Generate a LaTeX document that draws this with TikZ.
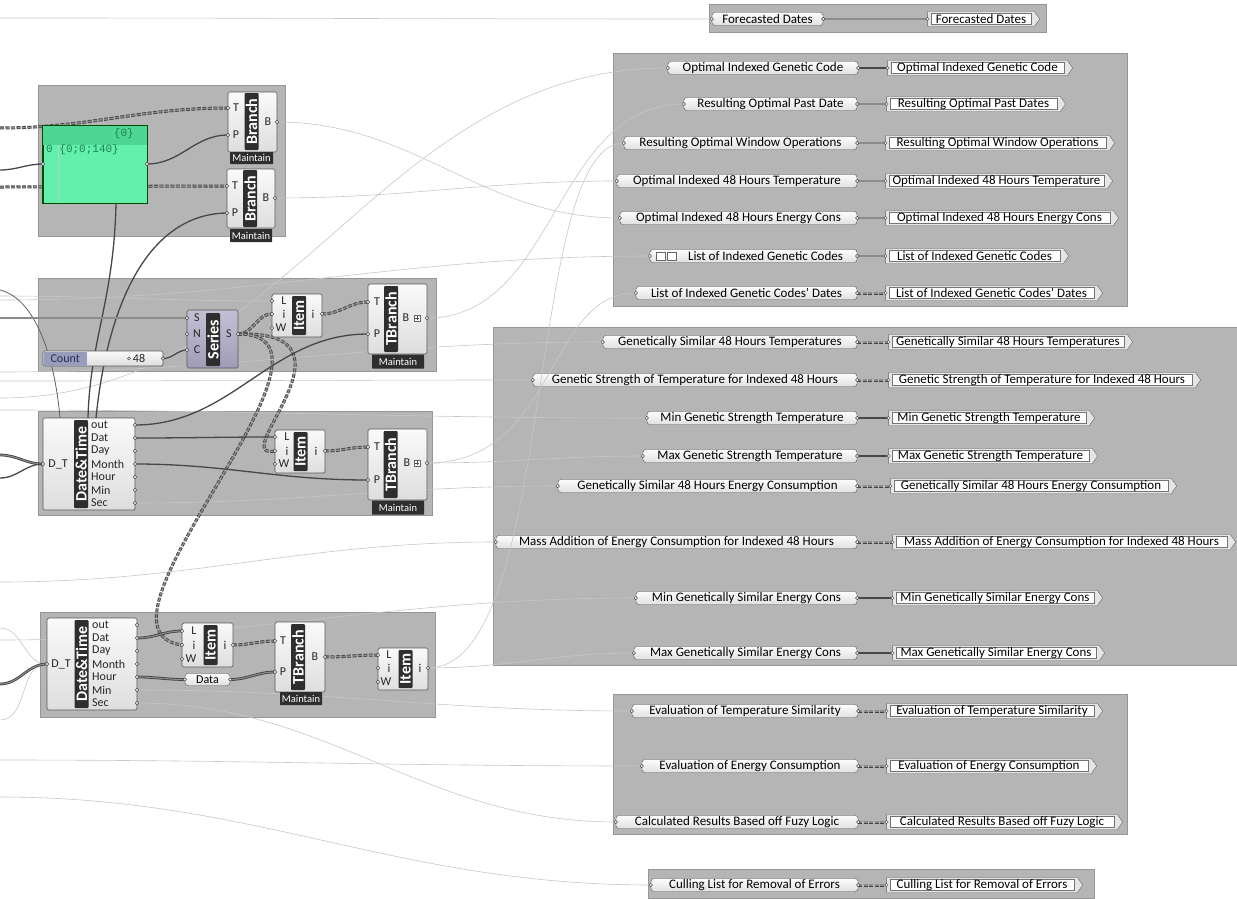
\documentclass[tikz,border=0pt]{standalone}
\usepackage{fontspec}
\setmainfont{Carlito}
\setmonofont{Liberation Mono}
\usetikzlibrary{shapes.symbols}

\definecolor{grpfill}{RGB}{181,181,181}
\definecolor{grpline}{RGB}{150,150,150}
\definecolor{panelfill}{RGB}{98,240,172}
\definecolor{panelhead}{RGB}{78,214,148}
\definecolor{paneltext}{RGB}{30,130,80}
\definecolor{serieslt}{RGB}{196,192,212}
\definecolor{seriesdk}{RGB}{160,156,182}
\definecolor{sliderlbl}{RGB}{152,158,186}
\definecolor{slidertext}{RGB}{40,42,90}

\newcommand{\pfont}{\fontsize{13}{14}\selectfont}
\newcommand{\portfont}{\fontsize{12}{13}\selectfont}
\newcommand{\stripfont}{\fontsize{16}{16}\selectfont\bfseries}
\newcommand{\mfont}{\fontsize{10.5}{11}\selectfont}

\begin{document}
\begin{tikzpicture}[x=1pt,y=-1pt,
    grp/.style={fill=grpfill, draw=grpline, line width=0.6pt},
    comp/.style={draw=black!65, top color=black!2, bottom color=black!13, rounded corners=1.5pt, line width=0.7pt, inner sep=0},
    seriesbox/.style={comp, top color=serieslt, bottom color=seriesdk},
    strip/.style={fill=black!82, text=white, font=\stripfont, rounded corners=1pt, inner sep=0, rotate=90},
    port/.style={font=\portfont, inner sep=0, text=black!85},
    maint/.style={fill=black!82, text=white, font=\mfont, inner sep=0, rounded corners=0.5pt},
    param/.style={draw=black!65, top color=black!1, bottom color=black!12, rounded corners=3pt, minimum height=13, inner sep=0, font=\pfont},
    relay/.style={signal, signal to=east, signal pointer angle=110, draw=black!60, fill=black!10, minimum height=15, inner sep=0, font=\pfont,
      path picture={
        \fill[white] ([shift={(4pt,2.2pt)}]path picture bounding box.south west) rectangle ([shift={(-8pt,-2.2pt)}]path picture bounding box.north east);
        \draw[black!55, line width=0.5pt] ([shift={(4pt,2.2pt)}]path picture bounding box.south west) rectangle ([shift={(-8pt,-2.2pt)}]path picture bounding box.north east);}},
    grip/.style={draw=black!70, fill=black!5, line width=0.5pt},
    wirethin/.style={draw=black!22, line width=0.6pt},
    wiredark/.style={draw=black!62, line width=0.8pt},
    wiresolid/.style={draw=black!72, line width=1.3pt},
    wiretree/.style={draw=black!75, line width=0.8pt, double=black!45, double distance=1.1pt},
    wirelist/.style={wiretree, double distance=1.4pt, dash pattern=on 4pt off 1.5pt}]
  \useasboundingbox (0,0) rectangle (1237,899);

  % groups
  \draw[grp] (38,85) rectangle (285,236);
  \draw[grp] (38,278) rectangle (436,371);
  \draw[grp] (38,411) rectangle (432,515);
  \draw[grp] (40,612) rectangle (435,717);
  \draw[grp] (709,4) rectangle (1046,32);
  \draw[grp] (613,53) rectangle (1127,306);
  \draw[grp] (493,327) rectangle (1237,665);
  \draw[grp] (613,694) rectangle (1127,834);
  \draw[grp] (648,869) rectangle (1094,898);

  % ports of the left components
  \coordinate (pnlIn) at (43,164);   \coordinate (pnlOut) at (147,164);
  \coordinate (pnlBot) at (116,203);
  \coordinate (br1T) at (228,108);   \coordinate (br1P) at (228,135);   \coordinate (br1B) at (277,122);
  \coordinate (br2T) at (227,186);   \coordinate (br2P) at (227,213);   \coordinate (br2B) at (275,198);
  \coordinate (cntOut) at (163,358.5);
  \coordinate (sS) at (187,318);     \coordinate (sN) at (187,334);     \coordinate (sC) at (187,350);
  \coordinate (sOut) at (238,334);
  \coordinate (it1L) at (272,301);   \coordinate (it1i) at (272,314);   \coordinate (it1W) at (272,328);
  \coordinate (it1o) at (322,314);
  \coordinate (tb1T) at (368,302);   \coordinate (tb1P) at (368,334);   \coordinate (tb1B) at (427,318);
  \coordinate (dt1DT) at (43,464);
  \coordinate (dt1Top0) at (60,418); \coordinate (dt1Top1) at (88,418); \coordinate (dt1Top2) at (96,418);
  \coordinate (dt1out) at (135,425); \coordinate (dt1Dat) at (135,438); \coordinate (dt1Day) at (135,451);
  \coordinate (dt1Month) at (135,464); \coordinate (dt1Hour) at (135,477); \coordinate (dt1Min) at (135,490);
  \coordinate (dt1Sec) at (135,503);
  \coordinate (it2L) at (275,437);   \coordinate (it2i) at (275,451);   \coordinate (it2W) at (275,464);
  \coordinate (it2o) at (325,451);
  \coordinate (tb2T) at (368,447);   \coordinate (tb2P) at (368,480);   \coordinate (tb2B) at (427,463);
  \coordinate (dt2DT) at (47,664);
  \coordinate (dt2out) at (137,625); \coordinate (dt2Dat) at (137,638); \coordinate (dt2Day) at (137,651);
  \coordinate (dt2Month) at (137,664); \coordinate (dt2Hour) at (137,677); \coordinate (dt2Min) at (137,690);
  \coordinate (dt2Sec) at (137,703);
  \coordinate (it3L) at (182,631);   \coordinate (it3i) at (182,645);   \coordinate (it3W) at (182,659);
  \coordinate (it3o) at (233,645);
  \coordinate (tb3T) at (275,641);   \coordinate (tb3P) at (275,672);   \coordinate (tb3B) at (325,657);
  \coordinate (it4L) at (378,655);   \coordinate (it4i) at (378,668);   \coordinate (it4W) at (378,682);
  \coordinate (it4o) at (428,668);

  % free ends at the left border
  \coordinate (lA) at (0,18);    \coordinate (lB) at (0,398);   \coordinate (lC) at (0,300);
  \coordinate (lD) at (0,372);   \coordinate (lE) at (0,381);   \coordinate (lF) at (0,410);
  \coordinate (lG) at (0,582);   \coordinate (lH) at (0,640);   \coordinate (lI) at (0,760);
  \coordinate (lJ) at (0,797);   \coordinate (lK) at (0,296);   \coordinate (lL) at (0,720);
  \coordinate (lM) at (0,628);   \coordinate (lN) at (0,128);   \coordinate (lO) at (0,170);
  \coordinate (lP) at (0,187);   \coordinate (lQ) at (0,290);   \coordinate (lR) at (0,318);
  \coordinate (lS) at (0,455);   \coordinate (lT) at (0,478);   \coordinate (lU) at (0,684);

  % right hand parameters and outputs
  \node[param, minimum width=111] (fdL) at (767.5,19) {Forecasted Dates};
  \node[relay, minimum width=112] (fdR) at (981,19) {Forecasted Dates};

  \node[param, minimum width=190] (oigcL) at (763,68) {Optimal Indexed Genetic Code};
  \node[relay, minimum width=185] (oigcR) at (977.5,68) {Optimal Indexed Genetic Code};
  \node[param, minimum width=173] (ropL) at (770.5,104) {Resulting Optimal Past Date};
  \node[relay, minimum width=179] (ropR) at (973.5,104) {Resulting Optimal Past Dates};
  \node[param, minimum width=233] (rowoL) at (740.5,143) {Resulting Optimal Window Operations};
  \node[relay, minimum width=229] (rowoR) at (997.5,143) {Resulting Optimal Window Operations};
  \node[param, minimum width=240] (otL) at (737,181) {Optimal Indexed 48 Hours Temperature};
  \node[relay, minimum width=227] (otR) at (996.5,181) {Optimal Indexed 48 Hours Temperature};
  \node[param, minimum width=237] (oeL) at (738.5,218) {Optimal Indexed 48 Hours Energy Cons};
  \node[relay, minimum width=233] (oeR) at (999.5,218) {Optimal Indexed 48 Hours Energy Cons};
  \node[param, minimum width=207] (lgcL) at (753.5,256) {\hspace*{24pt}List of Indexed Genetic Codes};
  \node[relay, minimum width=183] (lgcR) at (974.5,256) {List of Indexed Genetic Codes};
  \node[param, minimum width=221] (lgcdL) at (746.5,293) {List of Indexed Genetic Codes' Dates};
  \node[relay, minimum width=217] (lgcdR) at (991.5,293) {List of Indexed Genetic Codes' Dates};

  \node[param, minimum width=254] (gstL) at (730,342) {Genetically Similar 48 Hours Temperatures};
  \node[relay, minimum width=244] (gstR) at (1008,342) {Genetically Similar 48 Hours Temperatures};
  \node[param, minimum width=324] (gsL) at (695,380) {Genetic Strength of Temperature for Indexed 48 Hours};
  \node[relay, minimum width=312] (gsR) at (1042,380) {Genetic Strength of Temperature for Indexed 48 Hours};
  \node[param, minimum width=210] (mingsL) at (752,418) {Min Genetic Strength Temperature};
  \node[relay, minimum width=206] (mingsR) at (989,418) {Min Genetic Strength Temperature};
  \node[param, minimum width=214] (maxgsL) at (750,456) {Max Genetic Strength Temperature};
  \node[relay, minimum width=209] (maxgsR) at (990.5,456) {Max Genetic Strength Temperature};
  \node[param, minimum width=299] (gseL) at (707.5,486) {Genetically Similar 48 Hours Energy Consumption};
  \node[relay, minimum width=286] (gseR) at (1031,486) {Genetically Similar 48 Hours Energy Consumption};
  \node[param, minimum width=361] (maL) at (676.5,542) {Mass Addition of Energy Consumption for Indexed 48 Hours};
  \node[relay, minimum width=343] (maR) at (1061.5,542) {Mass Addition of Energy Consumption for Indexed 48 Hours};
  \node[param, minimum width=221] (mingeL) at (746.5,598) {Min Genetically Similar Energy Cons};
  \node[relay, minimum width=210] (mingeR) at (995,598) {Min Genetically Similar Energy Cons};
  \node[param, minimum width=223] (maxgeL) at (745.5,653) {Max Genetically Similar Energy Cons};
  \node[relay, minimum width=212] (maxgeR) at (996,653) {Max Genetically Similar Energy Cons};

  \node[param, minimum width=226] (etsL) at (745,711) {Evaluation of Temperature Similarity};
  \node[relay, minimum width=216] (etsR) at (992,711) {Evaluation of Temperature Similarity};
  \node[param, minimum width=216] (eecL) at (750,766) {Evaluation of Energy Consumption};
  \node[relay, minimum width=210] (eecR) at (989,766) {Evaluation of Energy Consumption};
  \node[param, minimum width=242] (crL) at (737,822) {Calculated Results Based off Fuzy Logic};
  \node[relay, minimum width=236] (crR) at (1002,822) {Calculated Results Based off Fuzy Logic};
  \node[param, minimum width=207] (culL) at (754.5,885) {Culling List for Removal of Errors};
  \node[relay, minimum width=196] (culR) at (982,885) {Culling List for Removal of Errors};

  % icons of the list parameter
  \draw[black!60, fill=white, line width=0.5pt] (656,252) rectangle (665,260);
  \draw[black!60, fill=white, line width=0.5pt] (667,252) rectangle (676,260);

  % thin wires
  \draw[wirethin] (lA) to[out=0,in=180] (fdL.west);
  \draw[wirethin] (br1B) to[out=0,in=180] (oeL.west);
  \draw[wirethin] (br2B) to[out=0,in=180] (otL.west);
  \draw[wirethin] (lB) to[out=0,in=180] (oigcL.west);
  \draw[wirethin] (tb1B) to[out=0,in=180] (ropL.west);
  \draw[wirethin] (it4o) .. controls +(130,0) and +(-100,0) .. (rowoL.west);
  \draw[wirethin] (tb2B) .. controls +(130,0) and +(-90,0) .. (lgcdL.west);
  \draw[wirethin] (lC) to[out=0,in=180] (lgcL.west);
  \draw[wirethin] (lD) to[out=0,in=180] (gstL.west);
  \draw[wirethin] (lE) to[out=0,in=180] (gsL.west);
  \draw[wirethin] (lF) to[out=0,in=180] (mingsL.west);
  \draw[wirethin] (tb2B) to[out=0,in=180] (maxgsL.west);
  \draw[wirethin] (dt1Sec) to[out=0,in=180] (gseL.west);
  \draw[wirethin] (lG) to[out=0,in=180] (maL.west);
  \draw[wirethin] (lH) to[out=0,in=180] (mingeL.west);
  \draw[wirethin] (it4o) to[out=0,in=180] (maxgeL.west);
  \draw[wirethin] (dt2Min) to[out=0,in=180] (etsL.west);
  \draw[wirethin] (lI) to[out=0,in=180] (eecL.west);
  \draw[wirethin] (dt2Sec) to[out=0,in=180] (crL.west);
  \draw[wirethin] (lJ) to[out=0,in=180] (culL.west);
  \draw[wirethin] (lK) to[out=0,in=180] (it1L);
  \draw[wirethin] (lL) to[out=0,in=180] (dt2DT);
  \draw[wirethin] (lM) to[out=0,in=180] (dt2DT);

  % data wires
  \draw[wirelist] (lN) to[out=0,in=180] (br1T);
  \draw[wiresolid] (lO) to[out=0,in=180] (pnlIn);
  \draw[wirelist] (lP) to[out=0,in=180] (br2T);
  \draw[wiresolid] (pnlOut) to[out=0,in=180] (br1P);
  \draw[wiresolid] (pnlBot) .. controls (114,300) and (90,340) .. (dt1Top1);
  \draw[wiresolid] (dt1Top2) .. controls (108,300) and (150,214) .. (br2P);
  \draw[wiredark] (lQ) .. controls (40,300) and (56,370) .. (dt1Top0);
  \draw[wiretree] (lR) -- (sS);
  \draw[wiresolid] (cntOut) to[out=0,in=180] (sC);
  \draw[wirelist] (sOut) to[out=0,in=180] (it1i);
  \draw[wirelist] (sOut) .. controls (370,330) and (225,460) .. (it2i);
  \draw[wirelist] (sOut) .. controls (370,334) and (70,630) .. (it3i);
  \draw[wirelist] (it1o) to[out=0,in=180] (tb1T);
  \draw[wiresolid] (dt1out) to[out=0,in=180] (tb1P);
  \draw[wiresolid] (dt1Dat) to[out=0,in=180] (it2L);
  \draw[wiresolid] (dt1Month) to[out=0,in=180] (tb2P);
  \draw[wirelist] (it2o) to[out=0,in=180] (tb2T);
  \draw[wiretree] (lS) to[out=0,in=180] (dt1DT);
  \draw[wiresolid] (lT) to[out=0,in=180] (dt1DT);
  \draw[wiretree] (lU) to[out=0,in=180] (dt2DT);
  \draw[wiretree] (dt2Dat) to[out=0,in=180] (it3L);
  \draw[wiretree] (dt2Hour) to[out=0,in=180] ([xshift=-22.5]207.5,679.5);
  \draw[wiretree] ([xshift=22.5]207.5,679.5) to[out=0,in=180] (tb3P);
  \draw[wirelist] (it3o) to[out=0,in=180] (tb3T);
  \draw[wirelist] (tb3B) to[out=0,in=180] (it4L);

  % wires between parameters and outputs
  \draw[wiretree] (fdL.east) -- (fdR.west);
  \draw[wiresolid] (oigcL.east) -- (oigcR.west);
  \draw[wiretree] (ropL.east) -- (ropR.west);
  \draw[wiretree] (rowoL.east) -- (rowoR.west);
  \draw[wiretree] (otL.east) -- (otR.west);
  \draw[wiretree] (oeL.east) -- (oeR.west);
  \draw[wiretree] (lgcL.east) -- (lgcR.west);
  \draw[wirelist] (lgcdL.east) -- (lgcdR.west);
  \draw[wirelist] (gstL.east) -- (gstR.west);
  \draw[wirelist] (gsL.east) -- (gsR.west);
  \draw[wiresolid] (mingsL.east) -- (mingsR.west);
  \draw[wiresolid] (maxgsL.east) -- (maxgsR.west);
  \draw[wirelist] (gseL.east) -- (gseR.west);
  \draw[wirelist] (maL.east) -- (maR.west);
  \draw[wiresolid] (mingeL.east) -- (mingeR.west);
  \draw[wiresolid] (maxgeL.east) -- (maxgeR.west);
  \draw[wirelist] (etsL.east) -- (etsR.west);
  \draw[wirelist] (eecL.east) -- (eecR.west);
  \draw[wirelist] (crL.east) -- (crR.west);
  \draw[wirelist] (culL.east) -- (culR.west);

  % panel
  \node[draw=black!70!green, fill=panelfill, line width=0.7pt, minimum width=104, minimum height=77, inner sep=0] (pnl) at (95,164.5) {};
  \fill[panelhead] (43.3,126.3) rectangle (146.7,145);
  \draw[black!70!green, line width=0.7pt] (pnl.north west) rectangle (pnl.south east);
  \draw[paneltext!35, line width=0.4pt] (58,145) -- (58,202.6);
  \node[font=\ttfamily\fontsize{11}{12}\selectfont, text=paneltext, inner sep=0, anchor=east] (pnlhd) at (134,134) {\{0\}};
  \node[font=\ttfamily\fontsize{11}{12}\selectfont, text=paneltext, inner sep=0, anchor=west] (pnltx) at (46,150) {0 \{0;0;140\}};

  % branch components
  \node[comp, minimum width=49, minimum height=60] (br1) at (252.5,122) {};
  \node[strip, minimum width=57, minimum height=14] (br1s) at (251.5,121.5) {Branch};
  \node[port] (br1Tl) at (236,108) {T};
  \node[port] (br1Pl) at (236,135) {P};
  \node[port] (br1Bl) at (268,122) {B};
  \node[maint, minimum width=43, minimum height=12] (br1m) at (251.5,158) {Maintain};

  \node[comp, minimum width=48, minimum height=59] (br2) at (251,198.5) {};
  \node[strip, minimum width=57, minimum height=14] (br2s) at (250,198.5) {Branch};
  \node[port] (br2Tl) at (235,186) {T};
  \node[port] (br2Pl) at (235,213) {P};
  \node[port] (br2Bl) at (266,198) {B};
  \node[maint, minimum width=42, minimum height=13] (br2m) at (251,235.5) {Maintain};

  % count slider
  \node[comp, minimum width=120, minimum height=15] (cnt) at (103,358.5) {};
  \node[fill=sliderlbl, text=slidertext, font=\portfont, inner sep=0, minimum width=43, minimum height=14, anchor=west] (cntl) at (43.5,358.5) {Count};
  \draw[black!70, line width=0.5pt] (129,358.5) circle (1.6);
  \node[port] (cntv) at (139,358.5) {48};

  % series
  \node[seriesbox, minimum width=51, minimum height=58] (ser) at (212.5,339) {};
  \node[strip, minimum width=53, minimum height=14] (sers) at (213,339.5) {Series};
  \node[port] (serSl) at (197,318) {S};
  \node[port] (serNl) at (197,334) {N};
  \node[port] (serCl) at (197,350) {C};
  \node[port] (serOl) at (229,334) {S};

  % list items and tree branches
  \node[comp, minimum width=50, minimum height=43] (it1) at (297,315.5) {};
  \node[strip, minimum width=39, minimum height=14] (it1s) at (299,315.5) {Item};
  \node[port] (it1Ll) at (284,301) {L};
  \node[port] (it1il) at (284,314) {i};
  \node[port] (it1Wl) at (281,328) {W};
  \node[port] (it1ol) at (313,314) {i};

  \node[comp, minimum width=59, minimum height=70] (tb1) at (397.5,319) {};
  \node[strip, minimum width=66, minimum height=14] (tb1s) at (391,319) {TBranch};
  \node[port] (tb1Tl) at (377,302) {T};
  \node[port] (tb1Pl) at (377,334) {P};
  \node[port] (tb1Bl) at (406,318) {B};
  \draw[black!60, fill=white, line width=0.5pt] (414,315) rectangle (420,321);
  \draw[black!70, line width=0.5pt] (415.3,318) -- (418.7,318) (417,316.3) -- (417,319.7);
  \node[maint, minimum width=52, minimum height=14] (tb1m) at (398,361.5) {Maintain};

  \node[comp, minimum width=92, minimum height=92] (dt1) at (89,464) {};
  \node[strip, minimum width=88, minimum height=14] (dt1s) at (81,464) {Date\&Time};
  \node[port] (dt1DTl) at (58,464) {D\_T};
  \node[port, anchor=west] (dt1outl) at (91,425) {out};
  \node[port, anchor=west] (dt1Datl) at (91,438) {Dat};
  \node[port, anchor=west] (dt1Dayl) at (91,451) {Day};
  \node[port, anchor=west] (dt1Monthl) at (91,464) {Month};
  \node[port, anchor=west] (dt1Hourl) at (91,477) {Hour};
  \node[port, anchor=west] (dt1Minl) at (91,490) {Min};
  \node[port, anchor=west] (dt1Secl) at (91,503) {Sec};

  \node[comp, minimum width=50, minimum height=43] (it2) at (300,451.5) {};
  \node[strip, minimum width=39, minimum height=14] (it2s) at (300.5,451.5) {Item};
  \node[port] (it2Ll) at (287,437) {L};
  \node[port] (it2il) at (287,451) {i};
  \node[port] (it2Wl) at (284,464) {W};
  \node[port] (it2ol) at (316,451) {i};

  \node[comp, minimum width=59, minimum height=71] (tb2) at (397.5,464.5) {};
  \node[strip, minimum width=67, minimum height=14] (tb2s) at (390.5,464.5) {TBranch};
  \node[port] (tb2Tl) at (377,447) {T};
  \node[port] (tb2Pl) at (377,480) {P};
  \node[port] (tb2Bl) at (407,463) {B};
  \draw[black!60, fill=white, line width=0.5pt] (414,460) rectangle (420,466);
  \draw[black!70, line width=0.5pt] (415.3,463) -- (418.7,463) (417,461.3) -- (417,464.7);
  \node[maint, minimum width=52, minimum height=14] (tb2m) at (398,507.5) {Maintain};

  \node[comp, minimum width=90, minimum height=92] (dt2) at (92,664) {};
  \node[strip, minimum width=88, minimum height=14] (dt2s) at (81.5,664) {Date\&Time};
  \node[port] (dt2DTl) at (61,664) {D\_T};
  \node[port, anchor=west] (dt2outl) at (92,625) {out};
  \node[port, anchor=west] (dt2Datl) at (92,638) {Dat};
  \node[port, anchor=west] (dt2Dayl) at (92,651) {Day};
  \node[port, anchor=west] (dt2Monthl) at (92,664) {Month};
  \node[port, anchor=west] (dt2Hourl) at (92,677) {Hour};
  \node[port, anchor=west] (dt2Minl) at (92,690) {Min};
  \node[port, anchor=west] (dt2Secl) at (92,703) {Sec};

  \node[comp, minimum width=51, minimum height=44] (it3) at (207.5,645) {};
  \node[strip, minimum width=40, minimum height=14] (it3s) at (210.5,645) {Item};
  \node[port] (it3Ll) at (194,631) {L};
  \node[port] (it3il) at (194,645) {i};
  \node[port] (it3Wl) at (191,659) {W};
  \node[port] (it3ol) at (225,645) {i};

  \node[param, font=\portfont, minimum width=45, minimum height=12] (data) at (207.5,679.5) {Data};

  \node[comp, minimum width=50, minimum height=70] (tb3) at (300,657) {};
  \node[strip, minimum width=66, minimum height=14] (tb3s) at (298,657) {TBranch};
  \node[port] (tb3Tl) at (283,641) {T};
  \node[port] (tb3Pl) at (283,672) {P};
  \node[port] (tb3Bl) at (315,657) {B};
  \node[maint, minimum width=42, minimum height=13] (tb3m) at (301,698.5) {Maintain};

  \node[comp, minimum width=50, minimum height=42] (it4) at (403,669) {};
  \node[strip, minimum width=38, minimum height=14] (it4s) at (405.5,669) {Item};
  \node[port] (it4Ll) at (389,655) {L};
  \node[port] (it4il) at (389,668) {i};
  \node[port] (it4Wl) at (386,682) {W};
  \node[port] (it4ol) at (420,668) {i};

  % grips
  \foreach \g in {pnlIn,pnlOut,br1T,br1P,br1B,br2T,br2P,br2B,cntOut,sS,sN,sC,sOut,
                  it1L,it1i,it1W,it1o,tb1T,tb1P,tb1B,dt1DT,dt1out,dt1Dat,dt1Day,dt1Month,dt1Hour,dt1Min,dt1Sec,
                  it2L,it2i,it2W,it2o,tb2T,tb2P,tb2B,dt2DT,dt2out,dt2Dat,dt2Day,dt2Month,dt2Hour,dt2Min,dt2Sec,
                  it3L,it3i,it3W,it3o,tb3T,tb3P,tb3B,it4L,it4i,it4W,it4o}
    \draw[grip] (\g) circle (1.7);
  \foreach \g in {fd,oigc,rop,rowo,ot,oe,lgc,lgcd,gst,gs,mings,maxgs,gse,ma,minge,maxge,ets,eec,cr,cul}
    \draw[grip] (\g L.west) circle (1.7) (\g L.east) circle (1.7) (\g R.west) circle (1.7);
  \draw[grip] (data.west) circle (1.7) (data.east) circle (1.7);
\end{tikzpicture}
\end{document}
